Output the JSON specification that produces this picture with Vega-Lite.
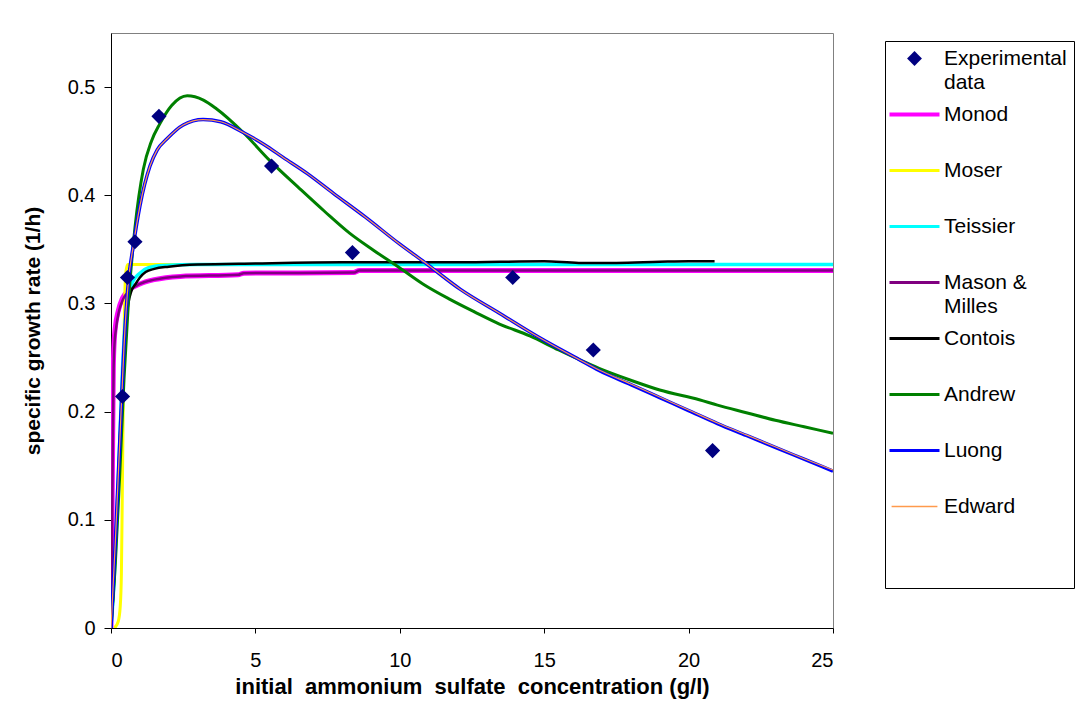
{
  "$schema": "https://vega.github.io/schema/vega-lite/v6.json",
  "width": 722,
  "height": 595,
  "autosize": {"type": "none"},
  "padding": {"left": 111, "top": 33, "right": 253, "bottom": 81},
  "background": "white",
  "config": {
    "font": "Liberation Sans",
    "view": {"stroke": "#808080", "strokeWidth": 1},
    "axis": {
      "grid": false,
      "domainColor": "black",
      "tickColor": "black",
      "labelColor": "black",
      "titleColor": "black",
      "labelFont": "Liberation Sans",
      "titleFont": "Liberation Sans",
      "labelFontSize": 20,
      "titleFontSize": 21,
      "titleFontWeight": "bold"
    },
    "legend": {
      "labelFont": "Liberation Sans",
      "labelFontSize": 21,
      "labelColor": "black",
      "strokeColor": "black"
    }
  },
  "data": {
    "values": [
      {"series": "Monod", "x": 0, "y": 0},
      {"series": "Monod", "x": 0.02, "y": 0.06},
      {"series": "Monod", "x": 0.05, "y": 0.15},
      {"series": "Monod", "x": 0.08, "y": 0.24},
      {"series": "Monod", "x": 0.11, "y": 0.265},
      {"series": "Monod", "x": 0.15, "y": 0.278},
      {"series": "Monod", "x": 0.25, "y": 0.293},
      {"series": "Monod", "x": 0.4, "y": 0.305},
      {"series": "Monod", "x": 0.6, "y": 0.312},
      {"series": "Monod", "x": 1, "y": 0.318},
      {"series": "Monod", "x": 1.5, "y": 0.322},
      {"series": "Monod", "x": 2.4, "y": 0.325},
      {"series": "Monod", "x": 4.4, "y": 0.3265},
      {"series": "Monod", "x": 4.6, "y": 0.328},
      {"series": "Monod", "x": 8.4, "y": 0.3285},
      {"series": "Monod", "x": 8.6, "y": 0.3305},
      {"series": "Monod", "x": 25, "y": 0.3305},
      {"series": "Moser", "x": 0.12, "y": 0},
      {"series": "Moser", "x": 0.25, "y": 0.006},
      {"series": "Moser", "x": 0.32, "y": 0.02},
      {"series": "Moser", "x": 0.36, "y": 0.05},
      {"series": "Moser", "x": 0.39, "y": 0.12},
      {"series": "Moser", "x": 0.42, "y": 0.2},
      {"series": "Moser", "x": 0.45, "y": 0.27},
      {"series": "Moser", "x": 0.48, "y": 0.31},
      {"series": "Moser", "x": 0.52, "y": 0.33},
      {"series": "Moser", "x": 0.58, "y": 0.336},
      {"series": "Moser", "x": 25, "y": 0.336},
      {"series": "Teissier", "x": 0, "y": 0},
      {"series": "Teissier", "x": 0.1, "y": 0.04},
      {"series": "Teissier", "x": 0.2, "y": 0.1},
      {"series": "Teissier", "x": 0.3, "y": 0.17},
      {"series": "Teissier", "x": 0.4, "y": 0.24},
      {"series": "Teissier", "x": 0.5, "y": 0.285},
      {"series": "Teissier", "x": 0.6, "y": 0.305},
      {"series": "Teissier", "x": 0.75, "y": 0.32},
      {"series": "Teissier", "x": 1, "y": 0.328},
      {"series": "Teissier", "x": 1.3, "y": 0.333},
      {"series": "Teissier", "x": 1.8, "y": 0.335},
      {"series": "Teissier", "x": 3, "y": 0.336},
      {"series": "Teissier", "x": 25, "y": 0.336},
      {"series": "Mason & Milles", "x": 0, "y": 0},
      {"series": "Mason & Milles", "x": 0.03, "y": 0.07},
      {"series": "Mason & Milles", "x": 0.06, "y": 0.16},
      {"series": "Mason & Milles", "x": 0.09, "y": 0.24},
      {"series": "Mason & Milles", "x": 0.12, "y": 0.262},
      {"series": "Mason & Milles", "x": 0.17, "y": 0.276},
      {"series": "Mason & Milles", "x": 0.27, "y": 0.292},
      {"series": "Mason & Milles", "x": 0.42, "y": 0.304},
      {"series": "Mason & Milles", "x": 0.65, "y": 0.312},
      {"series": "Mason & Milles", "x": 1, "y": 0.318},
      {"series": "Mason & Milles", "x": 1.5, "y": 0.322},
      {"series": "Mason & Milles", "x": 2.4, "y": 0.325},
      {"series": "Mason & Milles", "x": 4.4, "y": 0.3265},
      {"series": "Mason & Milles", "x": 4.6, "y": 0.328},
      {"series": "Mason & Milles", "x": 8.4, "y": 0.3285},
      {"series": "Mason & Milles", "x": 8.6, "y": 0.3305},
      {"series": "Mason & Milles", "x": 25, "y": 0.3305},
      {"series": "Contois", "x": 0, "y": 0},
      {"series": "Contois", "x": 0.1, "y": 0.04},
      {"series": "Contois", "x": 0.2, "y": 0.1},
      {"series": "Contois", "x": 0.3, "y": 0.17},
      {"series": "Contois", "x": 0.4, "y": 0.23},
      {"series": "Contois", "x": 0.5, "y": 0.275},
      {"series": "Contois", "x": 0.6, "y": 0.3},
      {"series": "Contois", "x": 0.7, "y": 0.311},
      {"series": "Contois", "x": 0.85, "y": 0.318},
      {"series": "Contois", "x": 1, "y": 0.324},
      {"series": "Contois", "x": 1.2, "y": 0.329},
      {"series": "Contois", "x": 1.5, "y": 0.332},
      {"series": "Contois", "x": 2, "y": 0.334},
      {"series": "Contois", "x": 3, "y": 0.336},
      {"series": "Contois", "x": 5, "y": 0.337},
      {"series": "Contois", "x": 8, "y": 0.338},
      {"series": "Contois", "x": 12, "y": 0.338},
      {"series": "Contois", "x": 15, "y": 0.339},
      {"series": "Contois", "x": 16.2, "y": 0.3375},
      {"series": "Contois", "x": 17.5, "y": 0.3375},
      {"series": "Contois", "x": 19, "y": 0.3385},
      {"series": "Contois", "x": 20, "y": 0.339},
      {"series": "Contois", "x": 20.9, "y": 0.339},
      {"series": "Andrew", "x": 0, "y": 0},
      {"series": "Andrew", "x": 0.15, "y": 0.06},
      {"series": "Andrew", "x": 0.3, "y": 0.14},
      {"series": "Andrew", "x": 0.45, "y": 0.23},
      {"series": "Andrew", "x": 0.6, "y": 0.3},
      {"series": "Andrew", "x": 0.83, "y": 0.37},
      {"series": "Andrew", "x": 1.12, "y": 0.424},
      {"series": "Andrew", "x": 1.4, "y": 0.45},
      {"series": "Andrew", "x": 1.69, "y": 0.466},
      {"series": "Andrew", "x": 2.1, "y": 0.483},
      {"series": "Andrew", "x": 2.64, "y": 0.492},
      {"series": "Andrew", "x": 3.2, "y": 0.488},
      {"series": "Andrew", "x": 3.65, "y": 0.48},
      {"series": "Andrew", "x": 4.58, "y": 0.458},
      {"series": "Andrew", "x": 5.5, "y": 0.432},
      {"series": "Andrew", "x": 6.54, "y": 0.406},
      {"series": "Andrew", "x": 7.4, "y": 0.385},
      {"series": "Andrew", "x": 8.26, "y": 0.365},
      {"series": "Andrew", "x": 9.1, "y": 0.349},
      {"series": "Andrew", "x": 9.99, "y": 0.333},
      {"series": "Andrew", "x": 10.8, "y": 0.318},
      {"series": "Andrew", "x": 11.72, "y": 0.304},
      {"series": "Andrew", "x": 12.6, "y": 0.292},
      {"series": "Andrew", "x": 13.45, "y": 0.281},
      {"series": "Andrew", "x": 14.5, "y": 0.27},
      {"series": "Andrew", "x": 15.5, "y": 0.257},
      {"series": "Andrew", "x": 16.22, "y": 0.248},
      {"series": "Andrew", "x": 16.9, "y": 0.24},
      {"series": "Andrew", "x": 18, "y": 0.229},
      {"series": "Andrew", "x": 19, "y": 0.22},
      {"series": "Andrew", "x": 20.37, "y": 0.211},
      {"series": "Andrew", "x": 21, "y": 0.206},
      {"series": "Andrew", "x": 22, "y": 0.199},
      {"series": "Andrew", "x": 23, "y": 0.192},
      {"series": "Andrew", "x": 24, "y": 0.186},
      {"series": "Andrew", "x": 25, "y": 0.18},
      {"series": "Luong", "x": 0, "y": 0},
      {"series": "Luong", "x": 0.15, "y": 0.08},
      {"series": "Luong", "x": 0.3, "y": 0.17},
      {"series": "Luong", "x": 0.45, "y": 0.26},
      {"series": "Luong", "x": 0.6, "y": 0.32},
      {"series": "Luong", "x": 0.77, "y": 0.353},
      {"series": "Luong", "x": 1, "y": 0.39},
      {"series": "Luong", "x": 1.35, "y": 0.427},
      {"series": "Luong", "x": 1.6, "y": 0.442},
      {"series": "Luong", "x": 1.93, "y": 0.452},
      {"series": "Luong", "x": 2.5, "y": 0.465},
      {"series": "Luong", "x": 3.19, "y": 0.47},
      {"series": "Luong", "x": 3.8, "y": 0.468},
      {"series": "Luong", "x": 4.58, "y": 0.458},
      {"series": "Luong", "x": 5.3, "y": 0.447},
      {"series": "Luong", "x": 5.96, "y": 0.435},
      {"series": "Luong", "x": 6.8, "y": 0.42},
      {"series": "Luong", "x": 7.69, "y": 0.402},
      {"series": "Luong", "x": 8.8, "y": 0.38},
      {"series": "Luong", "x": 9.99, "y": 0.355},
      {"series": "Luong", "x": 10.86, "y": 0.338},
      {"series": "Luong", "x": 12.1, "y": 0.313},
      {"series": "Luong", "x": 13.45, "y": 0.291},
      {"series": "Luong", "x": 14.8, "y": 0.269},
      {"series": "Luong", "x": 16.22, "y": 0.248},
      {"series": "Luong", "x": 16.9, "y": 0.238},
      {"series": "Luong", "x": 18, "y": 0.225},
      {"series": "Luong", "x": 19, "y": 0.213},
      {"series": "Luong", "x": 20, "y": 0.201},
      {"series": "Luong", "x": 21, "y": 0.189},
      {"series": "Luong", "x": 22, "y": 0.178},
      {"series": "Luong", "x": 23, "y": 0.167},
      {"series": "Luong", "x": 24, "y": 0.156},
      {"series": "Luong", "x": 25, "y": 0.145},
      {"series": "Edward", "x": 0, "y": 0},
      {"series": "Edward", "x": 0.15, "y": 0.08},
      {"series": "Edward", "x": 0.3, "y": 0.17},
      {"series": "Edward", "x": 0.45, "y": 0.26},
      {"series": "Edward", "x": 0.6, "y": 0.32},
      {"series": "Edward", "x": 0.77, "y": 0.353},
      {"series": "Edward", "x": 1, "y": 0.39},
      {"series": "Edward", "x": 1.35, "y": 0.427},
      {"series": "Edward", "x": 1.6, "y": 0.442},
      {"series": "Edward", "x": 1.93, "y": 0.452},
      {"series": "Edward", "x": 2.5, "y": 0.465},
      {"series": "Edward", "x": 3.19, "y": 0.47},
      {"series": "Edward", "x": 3.8, "y": 0.468},
      {"series": "Edward", "x": 4.58, "y": 0.458},
      {"series": "Edward", "x": 5.3, "y": 0.447},
      {"series": "Edward", "x": 5.96, "y": 0.435},
      {"series": "Edward", "x": 6.8, "y": 0.42},
      {"series": "Edward", "x": 7.69, "y": 0.402},
      {"series": "Edward", "x": 8.8, "y": 0.38},
      {"series": "Edward", "x": 9.99, "y": 0.355},
      {"series": "Edward", "x": 10.86, "y": 0.338},
      {"series": "Edward", "x": 12.1, "y": 0.313},
      {"series": "Edward", "x": 13.45, "y": 0.291},
      {"series": "Edward", "x": 14.8, "y": 0.269},
      {"series": "Edward", "x": 16.22, "y": 0.248},
      {"series": "Edward", "x": 16.9, "y": 0.2385},
      {"series": "Edward", "x": 18, "y": 0.2255},
      {"series": "Edward", "x": 19, "y": 0.2135},
      {"series": "Edward", "x": 20, "y": 0.2015},
      {"series": "Edward", "x": 21, "y": 0.1895},
      {"series": "Edward", "x": 22, "y": 0.1785},
      {"series": "Edward", "x": 23, "y": 0.1675},
      {"series": "Edward", "x": 24, "y": 0.1565},
      {"series": "Edward", "x": 25, "y": 0.146},
      {"series": "Experimental data", "x": 0.4, "y": 0.214},
      {"series": "Experimental data", "x": 0.57, "y": 0.324},
      {"series": "Experimental data", "x": 0.83, "y": 0.357},
      {"series": "Experimental data", "x": 1.66, "y": 0.473},
      {"series": "Experimental data", "x": 5.56, "y": 0.427},
      {"series": "Experimental data", "x": 8.36, "y": 0.347},
      {"series": "Experimental data", "x": 13.91, "y": 0.324},
      {"series": "Experimental data", "x": 16.7, "y": 0.257},
      {"series": "Experimental data", "x": 20.83, "y": 0.164}
    ]
  },
  "layer": [
    {
      "transform": [{"filter": "datum.series !== 'Experimental data'"}],
      "mark": {"type": "line", "interpolate": "monotone", "clip": true},
      "encoding": {
        "x": {
          "field": "x", "type": "quantitative",
          "scale": {"domain": [0, 25], "nice": false, "zero": false},
          "axis": {
            "values": [0, 5, 10, 15, 20, 25],
            "tickSize": 5,
            "labelPadding": 17,
            "titlePadding": 6,
            "titleFontSize": 22,
            "title": "initial\u00a0 ammonium\u00a0 sulfate\u00a0 concentration (g/l)"
          }
        },
        "y": {
          "field": "y", "type": "quantitative",
          "scale": {"domain": [0, 0.55], "nice": false},
          "axis": {
            "values": [0, 0.1, 0.2, 0.3, 0.4, 0.5],
            "labelExpr": "datum.value === 0 ? '0' : format(datum.value, '.1f')",
            "tickSize": 7,
            "labelPadding": 9,
            "titlePadding": 24,
            "title": "specific growth rate (1/h)"
          }
        },
        "color": {
          "field": "series", "type": "nominal",
          "scale": {
            "domain": ["Experimental data", "Monod", "Moser", "Teissier", "Mason & Milles", "Contois", "Andrew", "Luong", "Edward"],
            "range": ["#000080", "#FF00FF", "#FFFF00", "#00FFFF", "#800080", "#000000", "#008000", "#0000FF", "#FF9A4D"]
          },
          "legend": {
            "orient": "none",
            "legendX": 774,
            "legendY": 8,
            "title": " ",
            "titleOrient": "bottom",
            "titleFontSize": 10,
            "titlePadding": 54,
            "padding": 7,
            "symbolType": "stroke",
            "symbolSize": 400,
            "symbolStrokeWidth": 2,
            "symbolOffset": 12,
            "labelOffset": 19,
            "rowPadding": 10,
            "gridAlign": "all",
            "labelLimit": 220,
            "labelExpr": "datum.label === 'Experimental data' ? ['Experimental', 'data'] : datum.label === 'Mason & Milles' ? ['Mason &', 'Milles'] : datum.label",
            "encode": {
              "labels": {"update": {"lineHeight": {"value": 24}}},
              "symbols": {
                "update": {
                  "shape": {"signal": "datum.value === 'Experimental data' ? 'diamond' : 'stroke'"},
                  "size": {"signal": "datum.value === 'Experimental data' ? 220 : datum.value === 'Edward' ? 2100 : 2500"},
                  "strokeWidth": {"signal": "datum.value === 'Experimental data' ? 0 : datum.value === 'Monod' ? 4 : datum.value === 'Edward' ? 1.5 : 3"},
                  "fill": {"signal": "datum.value === 'Experimental data' ? '#000080' : 'transparent'"},
                  "stroke": {"signal": "datum.value === 'Experimental data' ? 'transparent' : scale('color', datum.value)"},
                  "opacity": {"value": 1}
                }
              }
            }
          }
        },
        "strokeWidth": {
          "field": "series", "type": "ordinal",
          "scale": {
            "type": "ordinal",
            "domain": ["Monod", "Moser", "Teissier", "Mason & Milles", "Contois", "Andrew", "Luong", "Edward"],
            "range": [5, 3, 3.5, 2.5, 2.5, 3, 3.5, 1.2]
          },
          "legend": null
        }
      }
    },
    {
      "transform": [{"filter": "datum.series === 'Experimental data'"}],
      "mark": {"type": "point", "shape": "diamond", "filled": true, "size": 230, "color": "#000080", "opacity": 1},
      "encoding": {
        "x": {"field": "x", "type": "quantitative"},
        "y": {"field": "y", "type": "quantitative"}
      }
    }
  ]
}
